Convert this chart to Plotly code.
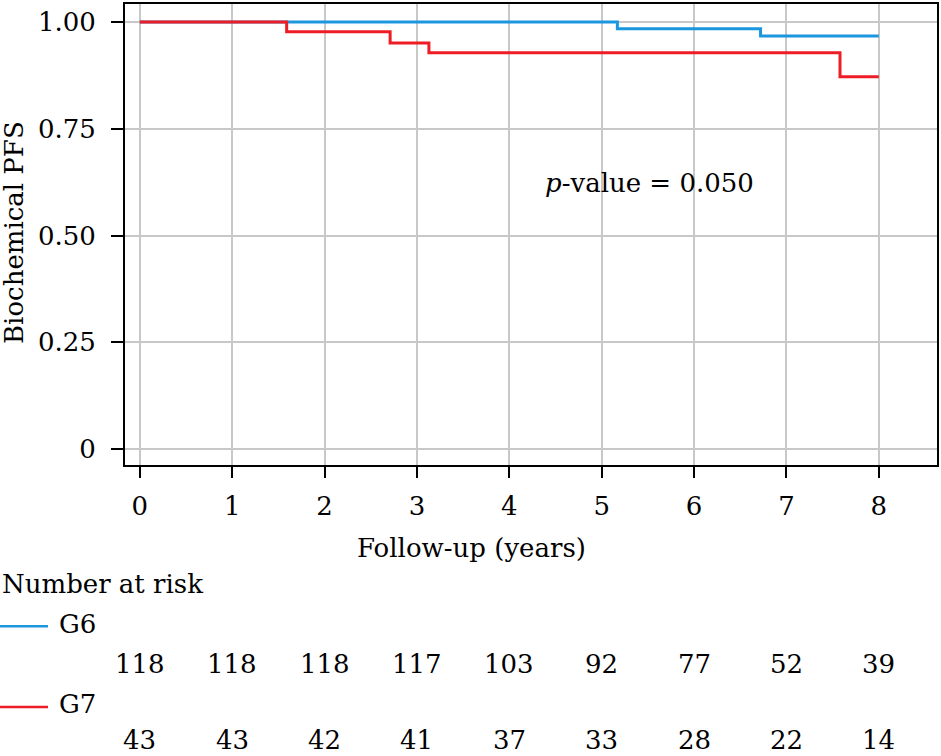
import plotly.graph_objects as go

# ---- data ----
g6_time = [0, 5.17, 6.72, 8.0]
g6_surv = [1.0, 0.984, 0.967, 0.967]
g7_time = [0, 1.59, 2.71, 3.13, 7.58, 8.0]
g7_surv = [1.0, 0.977, 0.951, 0.928, 0.872, 0.872]

risk_times = [0, 1, 2, 3, 4, 5, 6, 7, 8]
g6_risk = [118, 118, 118, 117, 103, 92, 77, 52, 39]
g7_risk = [43, 43, 42, 41, 37, 33, 28, 22, 14]

y_ticks = [0, 0.25, 0.5, 0.75, 1.0]
y_ticklabels = ["0", "0.25", "0.50", "0.75", "1.00"]
x_ticks = [0, 1, 2, 3, 4, 5, 6, 7, 8]

BLUE = "#1a97df"
RED = "#ee1c25"
FONT = "DejaVu Serif"
FS = 26

W, H = 941, 756
L, R, T, B = 125, 4, 2, 291
PW = W - L - R
PH = H - T - B


def px(x):
    return (x - L) / PW


def py(y):
    return (H - B - y) / PH


fig = go.Figure()
fig.add_trace(go.Scatter(x=g6_time, y=g6_surv, mode="lines", line=dict(color=BLUE, width=3, shape="hv"),
                         name="G6", showlegend=False, hoverinfo="skip"))
fig.add_trace(go.Scatter(x=g7_time, y=g7_surv, mode="lines", line=dict(color=RED, width=3, shape="hv"),
                         name="G7", showlegend=False, hoverinfo="skip"))

tf = dict(family=FONT, size=FS, color="black")
annotations = [
    dict(x=5.52, y=0.622, xref="x", yref="y", text="<i>p</i>-value = 0.050", showarrow=False,
         xanchor="center", yanchor="middle", font=tf),
    dict(x=px(14), y=py(232), xref="paper", yref="paper", text="Biochemical PFS", textangle=-90,
         showarrow=False, xanchor="center", yanchor="middle", font=tf),
    dict(x=px(471), y=py(548), xref="paper", yref="paper", text="Follow-up (years)", showarrow=False,
         xanchor="center", yanchor="middle", font=tf),
    dict(x=px(0), y=py(585), xref="paper", yref="paper", text="Number at risk", showarrow=False,
         xanchor="left", yanchor="middle", font=tf),
    dict(x=px(57), y=py(625), xref="paper", yref="paper", text="G6", showarrow=False,
         xanchor="left", yanchor="middle", font=tf),
    dict(x=px(57), y=py(705), xref="paper", yref="paper", text="G7", showarrow=False,
         xanchor="left", yanchor="middle", font=tf),
]
for t, n in zip(risk_times, g6_risk):
    annotations.append(dict(x=t, y=py(665), xref="x", yref="paper", text=str(n), showarrow=False,
                            xanchor="center", yanchor="middle", font=tf))
for t, n in zip(risk_times, g7_risk):
    annotations.append(dict(x=t, y=py(741), xref="x", yref="paper", text=str(n), showarrow=False,
                            xanchor="center", yanchor="middle", font=tf))

shapes = [
    dict(type="line", xref="paper", yref="paper", x0=px(0), x1=px(48), y0=py(627), y1=py(627),
         line=dict(color=BLUE, width=2.5)),
    dict(type="line", xref="paper", yref="paper", x0=px(0), x1=px(48), y0=py(708), y1=py(708),
         line=dict(color=RED, width=2.5)),
]

fig.update_layout(
    width=W, height=H,
    margin=dict(l=L, r=R, t=T, b=B),
    paper_bgcolor="white", plot_bgcolor="white",
    font=tf,
    annotations=annotations, shapes=shapes,
    showlegend=False,
)
fig.update_xaxes(range=[-0.16, 8.63], tickvals=x_ticks, ticks="outside", ticklen=11, tickwidth=2,
                 tickcolor="black", showline=True, linecolor="black", linewidth=2, mirror=True,
                 showgrid=True, gridcolor="#c8c8c8", gridwidth=2, zeroline=False,
                 ticklabelstandoff=6, tickfont=tf)
fig.update_yaxes(range=[-0.037, 1.042], tickvals=y_ticks, ticktext=y_ticklabels, ticks="outside",
                 ticklen=12, tickwidth=2, tickcolor="black", showline=True, linecolor="black",
                 linewidth=2, mirror=True, showgrid=True, gridcolor="#c8c8c8", gridwidth=2,
                 zeroline=False, ticklabelstandoff=10, tickfont=tf)

fig.write_html("out.html", config={"displayModeBar": False},
               post_script="document.body.style.margin='0';document.body.style.overflow='hidden';")
